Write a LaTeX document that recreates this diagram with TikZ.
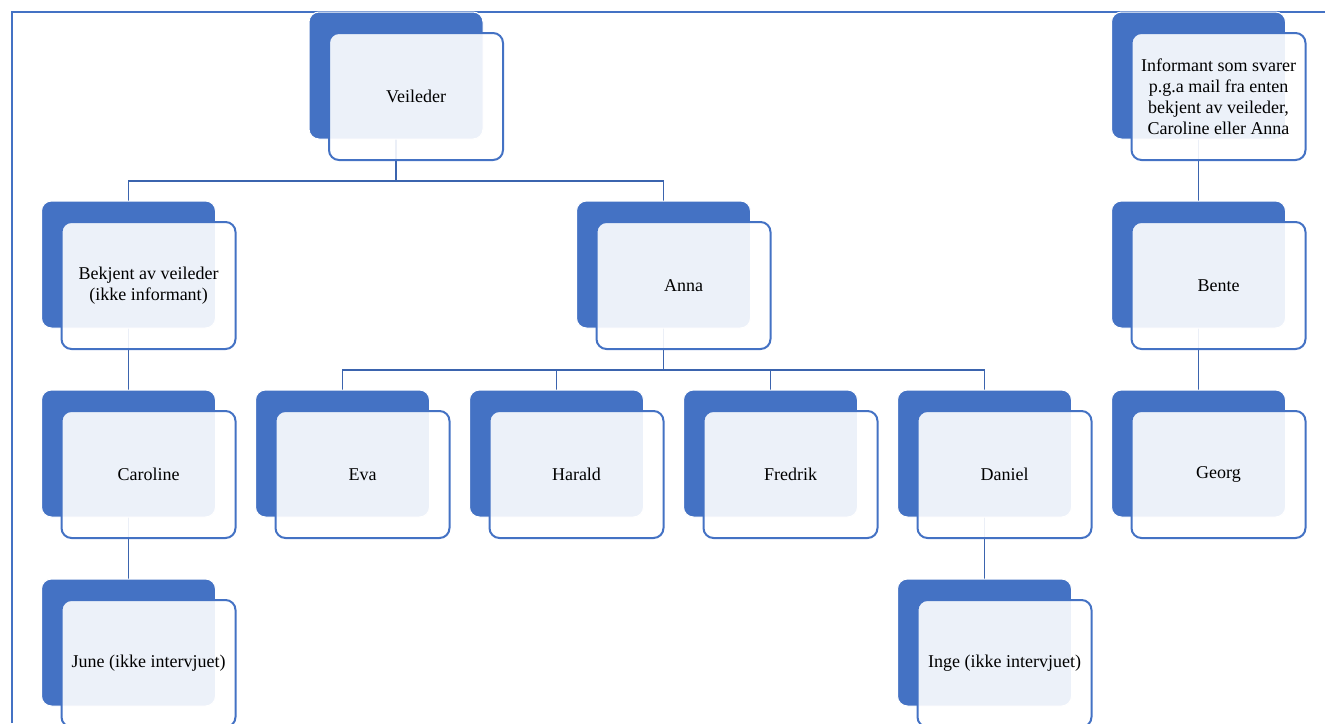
\documentclass[tikz,border=0pt]{standalone}
\usepackage{fontspec}
\setmainfont{Liberation Serif}
\usetikzlibrary{positioning,calc,shadows,backgrounds}
\definecolor{boxblue}{HTML}{4472C4}
\definecolor{lineblue}{HTML}{3B64AE}
\tikzset{
  pers/.style={draw=boxblue, line width=2pt, rounded corners=10pt, fill=white, fill opacity=0.9, text opacity=1,
    minimum width=174pt, minimum height=127pt, inner sep=2pt, align=center, text=black,
    font=\fontsize{18}{21}\selectfont,
    copy shadow={shadow xshift=-20pt, shadow yshift=21pt, fill=boxblue, draw=white, line width=1pt, fill opacity=1}},
  link/.style={draw=lineblue, line width=1.8pt},
}
\begin{document}
\begin{tikzpicture}[x=1pt, y=1pt, node distance=60pt and 38pt]
    \useasboundingbox (0,0) rectangle (1325,-723);
    \draw[boxblue, line width=1.5pt] (12,-723) -- (12,-12) -- (1325,-12);
    \node[pers] (car) at (148.5,-474.5) {Caroline};
    \node[pers, right=of car] (eva) {Eva};
    \node[pers, right=of eva] (har) {Harald};
    \node[pers, right=of har] (fre) {Fredrik};
    \node[pers, right=of fre] (dan) {Daniel};
    \node[pers, right=of dan] (geo) {Georg};
    \node[pers, above=of car] (bek) {Bekjent av veileder\\(ikke informant)};
    \node[pers, below=of car] (june) {June (ikke intervjuet)};
    \node[pers, below=of dan] (inge) {Inge (ikke intervjuet)};
    \node[pers, above=of geo] (ben) {Bente};
    \node[pers, above=of ben] (inf) {Informant som svarer\\p.g.a mail fra enten\\bekjent av veileder,\\Caroline eller Anna};
    \coordinate (m1) at ($(eva)!0.5!(dan)$);
    \node[pers, above=189pt of m1, anchor=center] (anna) {Anna};
    \coordinate (m2) at ($(bek)!0.5!(anna)$);
    \node[pers, above=189pt of m2, anchor=center] (vei) {Veileder};
    \begin{scope}[on background layer]
        \draw[link] ([xshift=-20pt]vei.center) -- ([xshift=-20pt,yshift=-20pt]vei.south) coordinate (v1)
            -| ([xshift=-20pt]bek.center);
        \draw[link] (v1) -| ([xshift=-20pt]anna.center);
        \draw[link] ([xshift=-20pt]anna.center) -- ([xshift=-20pt,yshift=-20pt]anna.south) coordinate (a1)
            -| ([xshift=-20pt]eva.center);
        \draw[link] (a1) -| ([xshift=-20pt]har.center);
        \draw[link] (a1) -| ([xshift=-20pt]fre.center);
        \draw[link] (a1) -| ([xshift=-20pt]dan.center);
        \draw[link] ([xshift=-20pt]bek.center) -- ([xshift=-20pt]car.center);
        \draw[link] ([xshift=-20pt]car.center) -- ([xshift=-20pt]june.center);
        \draw[link] ([xshift=-20pt]dan.center) -- ([xshift=-20pt]inge.center);
        \draw[link] ([xshift=-20pt]inf.center) -- ([xshift=-20pt]ben.center);
        \draw[link] ([xshift=-20pt]ben.center) -- ([xshift=-20pt]geo.center);
    \end{scope}
\end{tikzpicture}
\end{document}
